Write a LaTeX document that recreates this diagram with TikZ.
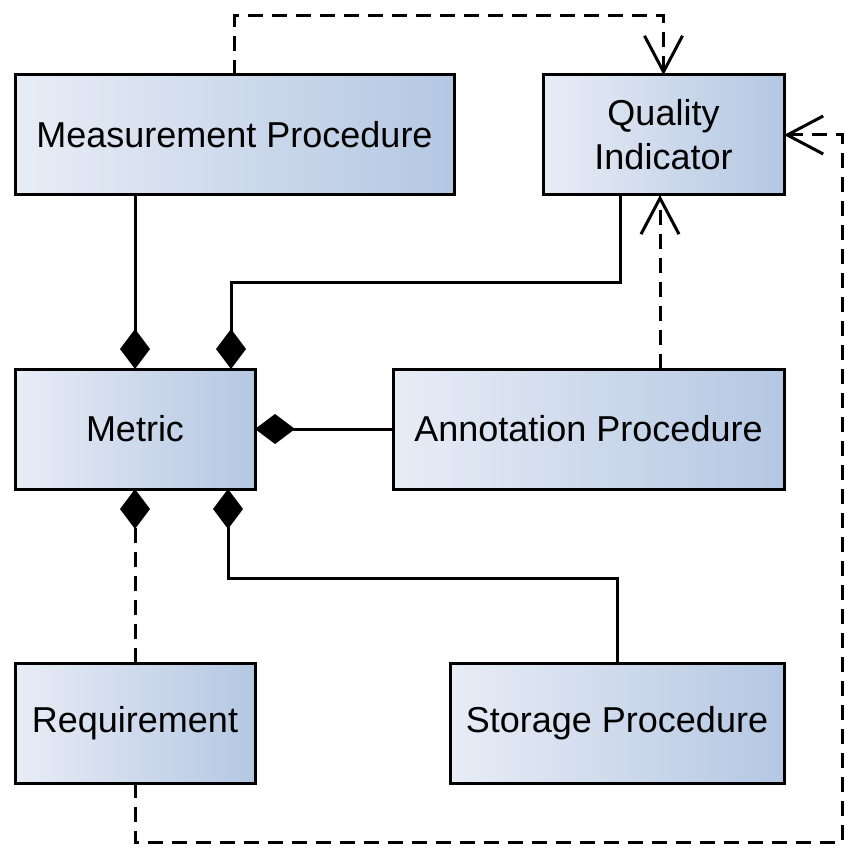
\documentclass[tikz,border=0pt]{standalone}
\usepackage{fontspec}
\setmainfont{Liberation Sans}
\usetikzlibrary{arrows.meta}
\definecolor{gl}{RGB}{232,237,246}
\definecolor{gr}{RGB}{180,199,226}
\begin{document}
\begin{tikzpicture}[x=1pt,y=-1pt,
  box/.style={draw=black, line width=3pt, left color=gl, right color=gr,
    minimum height=120pt, outer sep=0pt, inner sep=0pt, align=center,
    font=\fontsize{36}{44}\selectfont},
  conn/.style={line width=3pt},
  dashconn/.style={line width=3pt, dash pattern=on 15pt off 9pt},
  comp/.style={-{Diamond[length=40pt,width=30pt]}},
  dep/.style={-{Straight Barb[length=36pt,width=38pt]}}
]
\useasboundingbox (0,0) rectangle (858,858);
\node[box, minimum width=439pt] (meas) at (234.5,135) {Measurement Procedure};
\node[box, minimum width=241pt] (qi) at (663.5,135) {Quality\\Indicator};
\node[box, minimum width=240pt] (met) at (135,429) {Metric};
\node[box, minimum width=391pt] (ann) at (588.5,429) {Annotation Procedure};
\node[box, minimum width=240pt] (req) at (135,723) {Requirement};
\node[box, minimum width=334pt] (sto) at (617,723) {Storage Procedure};
\coordinate (corner) at (842,842);
% compositions
\draw[conn, comp] (meas.south -| met.north) -- (met.north);
\draw[conn, comp] ([xshift=-43.5pt]qi.south) -- ++(0,87) -| ([xshift=96pt]met.north);
\draw[conn, comp] (ann.west) -- (met.east);
\draw[dashconn, comp] (req.north) -- (met.south);
\draw[conn, comp] (sto.north) -- ++(0,-85) -| ([xshift=93pt]met.south);
% dependencies
\draw[dashconn, dep] ([xshift=71.5pt]ann.north) -- ([xshift=71.5pt]ann.north |- qi.south);
\draw[dashconn, dep] (meas.north) -- ++(0,-59) -| (qi.north);
\draw[dashconn, dep] (req.south) |- (corner) |- (qi.east);
\end{tikzpicture}
\end{document}
